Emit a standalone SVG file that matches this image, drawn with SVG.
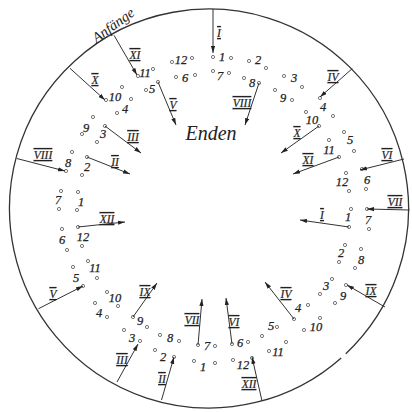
<svg xmlns="http://www.w3.org/2000/svg" width="412" height="412" viewBox="0 0 412 412">
<defs>
<marker id="ah" markerWidth="8" markerHeight="5" refX="7" refY="2.5" orient="auto" markerUnits="userSpaceOnUse">
<path d="M0,0.4 L7,2.5 L0,4.6 z" fill="#222"/>
</marker>
<style>
.rim{fill:none;stroke:#333;stroke-width:1.3}
.c{stroke:#333;stroke-width:1;fill:none;marker-end:url(#ah)}
.n{font-family:"Liberation Serif",serif;font-style:italic;font-size:12.5px;fill:#222;text-anchor:middle;stroke:#222;stroke-width:0.25}
.r{font-family:"Liberation Serif",serif;font-style:italic;font-size:11.5px;fill:#222;text-anchor:middle;text-decoration:underline overline;stroke:#222;stroke-width:0.2}
.d{fill:#fff;stroke:#666;stroke-width:0.9}
.big{font-family:"Liberation Serif",serif;font-style:italic;fill:#222}
</style>
</defs>
<rect width="412" height="412" fill="#fff"/>
<g id="rim">
<path class="rim" d="M341.2,357.9 A199.5,199.5 0 1 1 345.8,353.7"/>
</g>
<g id="label-anfaenge"><text class="big" font-size="14.5" transform="translate(116,29) rotate(-36)" text-anchor="middle">Anfänge</text></g>
<g id="label-enden"><text class="big" font-size="20" x="211" y="140" text-anchor="middle">Enden</text></g>
<g id="outer-ring">
<g id="o1a"><circle class="d" cx="213" cy="57" r="1.6"/><circle class="d" cx="231" cy="58" r="1.6"/><text class="n" x="222" y="61">1</text></g>
<g id="o2a"><circle class="d" cx="249" cy="61" r="1.6"/><circle class="d" cx="266" cy="68" r="1.6"/><text class="n" x="258" y="64">2</text></g>
<g id="o3a"><circle class="d" cx="284" cy="76" r="1.6"/><circle class="d" cx="302" cy="87" r="1.6"/><text class="n" x="294" y="82">3</text></g>
<g id="o4a"><circle class="d" cx="320" cy="98" r="1.6"/><circle class="d" cx="333" cy="116" r="1.6"/><text class="n" x="323" y="111">4</text></g>
<g id="o5a"><circle class="d" cx="344" cy="132" r="1.6"/><circle class="d" cx="354" cy="151" r="1.6"/><text class="n" x="350" y="144">5</text></g>
<g id="o6a"><circle class="d" cx="362" cy="169" r="1.6"/><circle class="d" cx="366" cy="189" r="1.6"/><text class="n" x="367" y="184">6</text></g>
<g id="o7a"><circle class="d" cx="367" cy="209" r="1.6"/><circle class="d" cx="369" cy="229" r="1.6"/><text class="n" x="368" y="224">7</text></g>
<g id="o8a"><circle class="d" cx="361" cy="249" r="1.6"/><circle class="d" cx="355" cy="268" r="1.6"/><text class="n" x="361" y="264">8</text></g>
<g id="o9a"><circle class="d" cx="346" cy="285" r="1.6"/><circle class="d" cx="335" cy="303" r="1.6"/><text class="n" x="343" y="300">9</text></g>
<g id="o10a"><circle class="d" cx="320" cy="318" r="1.6"/><circle class="d" cx="304" cy="330" r="1.6"/><text class="n" x="316" y="331">10</text></g>
<g id="o11a"><circle class="d" cx="286" cy="342" r="1.6"/><circle class="d" cx="269" cy="351" r="1.6"/><text class="n" x="278" y="356">11</text></g>
<g id="o12a"><circle class="d" cx="252" cy="358" r="1.6"/><circle class="d" cx="233" cy="360" r="1.6"/><text class="n" x="243" y="369">12</text></g>
<g id="o1b"><circle class="d" cx="215" cy="363" r="1.6"/><circle class="d" cx="194" cy="361" r="1.6"/><text class="n" x="203" y="371">1</text></g>
<g id="o2b"><circle class="d" cx="174" cy="357" r="1.6"/><circle class="d" cx="155" cy="350" r="1.6"/><text class="n" x="163" y="361">2</text></g>
<g id="o3b"><circle class="d" cx="140" cy="341" r="1.6"/><circle class="d" cx="124" cy="330" r="1.6"/><text class="n" x="132" y="342">3</text></g>
<g id="o4b"><circle class="d" cx="107" cy="317" r="1.6"/><circle class="d" cx="95" cy="303" r="1.6"/><text class="n" x="99" y="317">4</text></g>
<g id="o5b"><circle class="d" cx="83" cy="286" r="1.6"/><circle class="d" cx="73" cy="267" r="1.6"/><text class="n" x="76" y="282">5</text></g>
<g id="o6b"><circle class="d" cx="67" cy="250" r="1.6"/><circle class="d" cx="62" cy="229" r="1.6"/><text class="n" x="62" y="244">6</text></g>
<g id="o7b"><circle class="d" cx="59" cy="209" r="1.6"/><circle class="d" cx="61" cy="191" r="1.6"/><text class="n" x="58" y="204">7</text></g>
<g id="o8b"><circle class="d" cx="66" cy="171" r="1.6"/><circle class="d" cx="72" cy="152" r="1.6"/><text class="n" x="68" y="167">8</text></g>
<g id="o9b"><circle class="d" cx="82" cy="134" r="1.6"/><circle class="d" cx="93" cy="117" r="1.6"/><text class="n" x="86" y="132">9</text></g>
<g id="o10b"><circle class="d" cx="106" cy="100" r="1.6"/><circle class="d" cx="122" cy="87" r="1.6"/><text class="n" x="115" y="101">10</text></g>
<g id="o11b"><circle class="d" cx="138" cy="76" r="1.6"/><circle class="d" cx="153" cy="69" r="1.6"/><text class="n" x="145" y="77">11</text></g>
<g id="o12b"><circle class="d" cx="172" cy="62" r="1.6"/><circle class="d" cx="192" cy="58" r="1.6"/><text class="n" x="181" y="64">12</text></g>
</g>
<g id="inner-ring">
<g id="i7a"><circle class="d" cx="213" cy="71" r="1.6"/><circle class="d" cx="229" cy="73" r="1.6"/><text class="n" x="220" y="80">7</text></g>
<g id="i8a"><circle class="d" cx="244" cy="78" r="1.6"/><circle class="d" cx="259" cy="83" r="1.6"/><text class="n" x="252" y="87">8</text></g>
<g id="i9a"><circle class="d" cx="275" cy="90" r="1.6"/><circle class="d" cx="292" cy="100" r="1.6"/><text class="n" x="283" y="102">9</text></g>
<g id="i10a"><circle class="d" cx="306" cy="112" r="1.6"/><circle class="d" cx="319" cy="126" r="1.6"/><text class="n" x="312" y="124">10</text></g>
<g id="i11a"><circle class="d" cx="329" cy="140" r="1.6"/><circle class="d" cx="339" cy="157" r="1.6"/><text class="n" x="329" y="154">11</text></g>
<g id="i12a"><circle class="d" cx="346" cy="173" r="1.6"/><circle class="d" cx="349" cy="191" r="1.6"/><text class="n" x="342" y="186">12</text></g>
<g id="i1a"><circle class="d" cx="351" cy="209" r="1.6"/><circle class="d" cx="349" cy="227" r="1.6"/><text class="n" x="348" y="221">1</text></g>
<g id="i2a"><circle class="d" cx="345" cy="245" r="1.6"/><circle class="d" cx="339" cy="262" r="1.6"/><text class="n" x="341" y="257">2</text></g>
<g id="i3a"><circle class="d" cx="332" cy="279" r="1.6"/><circle class="d" cx="320" cy="294" r="1.6"/><text class="n" x="326" y="290">3</text></g>
<g id="i4a"><circle class="d" cx="308" cy="305" r="1.6"/><circle class="d" cx="294" cy="319" r="1.6"/><text class="n" x="298" y="312">4</text></g>
<g id="i5a"><circle class="d" cx="277" cy="327" r="1.6"/><circle class="d" cx="262" cy="336" r="1.6"/><text class="n" x="271" y="330">5</text></g>
<g id="i6a"><circle class="d" cx="248" cy="342" r="1.6"/><circle class="d" cx="232" cy="344" r="1.6"/><text class="n" x="240" y="347">6</text></g>
<g id="i7b"><circle class="d" cx="215" cy="346" r="1.6"/><circle class="d" cx="198" cy="345" r="1.6"/><text class="n" x="207" y="350">7</text></g>
<g id="i8b"><circle class="d" cx="179" cy="341" r="1.6"/><circle class="d" cx="160" cy="335" r="1.6"/><text class="n" x="170" y="342">8</text></g>
<g id="i9b"><circle class="d" cx="147" cy="327" r="1.6"/><circle class="d" cx="133" cy="317" r="1.6"/><text class="n" x="140" y="325">9</text></g>
<g id="i10b"><circle class="d" cx="118" cy="306" r="1.6"/><circle class="d" cx="107" cy="292" r="1.6"/><text class="n" x="115" y="302">10</text></g>
<g id="i11b"><circle class="d" cx="97" cy="278" r="1.6"/><circle class="d" cx="88" cy="261" r="1.6"/><text class="n" x="95" y="272">11</text></g>
<g id="i12b"><circle class="d" cx="82" cy="246" r="1.6"/><circle class="d" cx="78" cy="227" r="1.6"/><text class="n" x="83" y="241">12</text></g>
<g id="i1b"><circle class="d" cx="77" cy="210" r="1.6"/><circle class="d" cx="78" cy="192" r="1.6"/><text class="n" x="81" y="206">1</text></g>
<g id="i2b"><circle class="d" cx="82" cy="175" r="1.6"/><circle class="d" cx="87" cy="157" r="1.6"/><text class="n" x="87" y="171">2</text></g>
<g id="i3b"><circle class="d" cx="97" cy="142" r="1.6"/><circle class="d" cx="105" cy="126" r="1.6"/><text class="n" x="103" y="138">3</text></g>
<g id="i4b"><circle class="d" cx="117" cy="113" r="1.6"/><circle class="d" cx="131" cy="99" r="1.6"/><text class="n" x="125" y="113">4</text></g>
<g id="i5b"><circle class="d" cx="146" cy="90" r="1.6"/><circle class="d" cx="158" cy="82" r="1.6"/><text class="n" x="152" y="93">5</text></g>
<g id="i6b"><circle class="d" cx="176" cy="77" r="1.6"/><circle class="d" cx="195" cy="75" r="1.6"/><text class="n" x="185" y="82">6</text></g>
</g>
<g id="connectors">
<line class="c" x1="213" y1="9" x2="213" y2="53"/>
<line class="c" x1="352.3" y1="68.6" x2="320" y2="97"/>
<line class="c" x1="404" y1="159" x2="360" y2="170"/>
<line class="c" x1="409.5" y1="210" x2="367" y2="209"/>
<line class="c" x1="385" y1="307" x2="347" y2="285"/>
<line class="c" x1="262" y1="401" x2="252" y2="357"/>
<line class="c" x1="161.5" y1="400" x2="174" y2="357"/>
<line class="c" x1="117" y1="382" x2="138" y2="344"/>
<line class="c" x1="38.5" y1="308.7" x2="83" y2="286"/>
<line class="c" x1="16.8" y1="158.5" x2="65" y2="171"/>
<line class="c" x1="70" y1="68.3" x2="105" y2="100"/>
<line class="c" x1="114" y1="35.3" x2="137" y2="75"/>
<line class="c" x1="158" y1="82" x2="176" y2="125"/>
<line class="c" x1="259" y1="83" x2="245" y2="125"/>
<line class="c" x1="319" y1="126" x2="281" y2="153"/>
<line class="c" x1="339" y1="157" x2="293" y2="174"/>
<line class="c" x1="349" y1="227" x2="300" y2="220"/>
<line class="c" x1="294" y1="319" x2="265" y2="282"/>
<line class="c" x1="232" y1="344" x2="226" y2="298"/>
<line class="c" x1="198" y1="345" x2="202" y2="299"/>
<line class="c" x1="133" y1="317" x2="157" y2="283"/>
<line class="c" x1="78" y1="227" x2="125" y2="222"/>
<line class="c" x1="87" y1="157" x2="130" y2="174"/>
<line class="c" x1="105" y1="126" x2="141" y2="153"/>
<text class="r" x="219" y="37">I</text>
<text class="r" x="333" y="81">IV</text>
<text class="r" x="387" y="159">VI</text>
<text class="r" x="395" y="206">VII</text>
<text class="r" x="371" y="295">IX</text>
<text class="r" x="249" y="388">XII</text>
<text class="r" x="162" y="383">II</text>
<text class="r" x="122" y="364">III</text>
<text class="r" x="53" y="298">V</text>
<text class="r" x="43" y="159">VIII</text>
<text class="r" x="95" y="84">X</text>
<text class="r" x="135" y="59">XI</text>
<text class="r" x="173" y="109">V</text>
<text class="r" x="242" y="107">VIII</text>
<text class="r" x="297" y="137">X</text>
<text class="r" x="308" y="164">XI</text>
<text class="r" x="322" y="219">I</text>
<text class="r" x="286" y="298">IV</text>
<text class="r" x="234" y="326">VI</text>
<text class="r" x="192" y="324">VII</text>
<text class="r" x="145" y="296">IX</text>
<text class="r" x="107" y="223">XII</text>
<text class="r" x="115" y="166">II</text>
<text class="r" x="133" y="141">III</text>
</g>
</svg>
